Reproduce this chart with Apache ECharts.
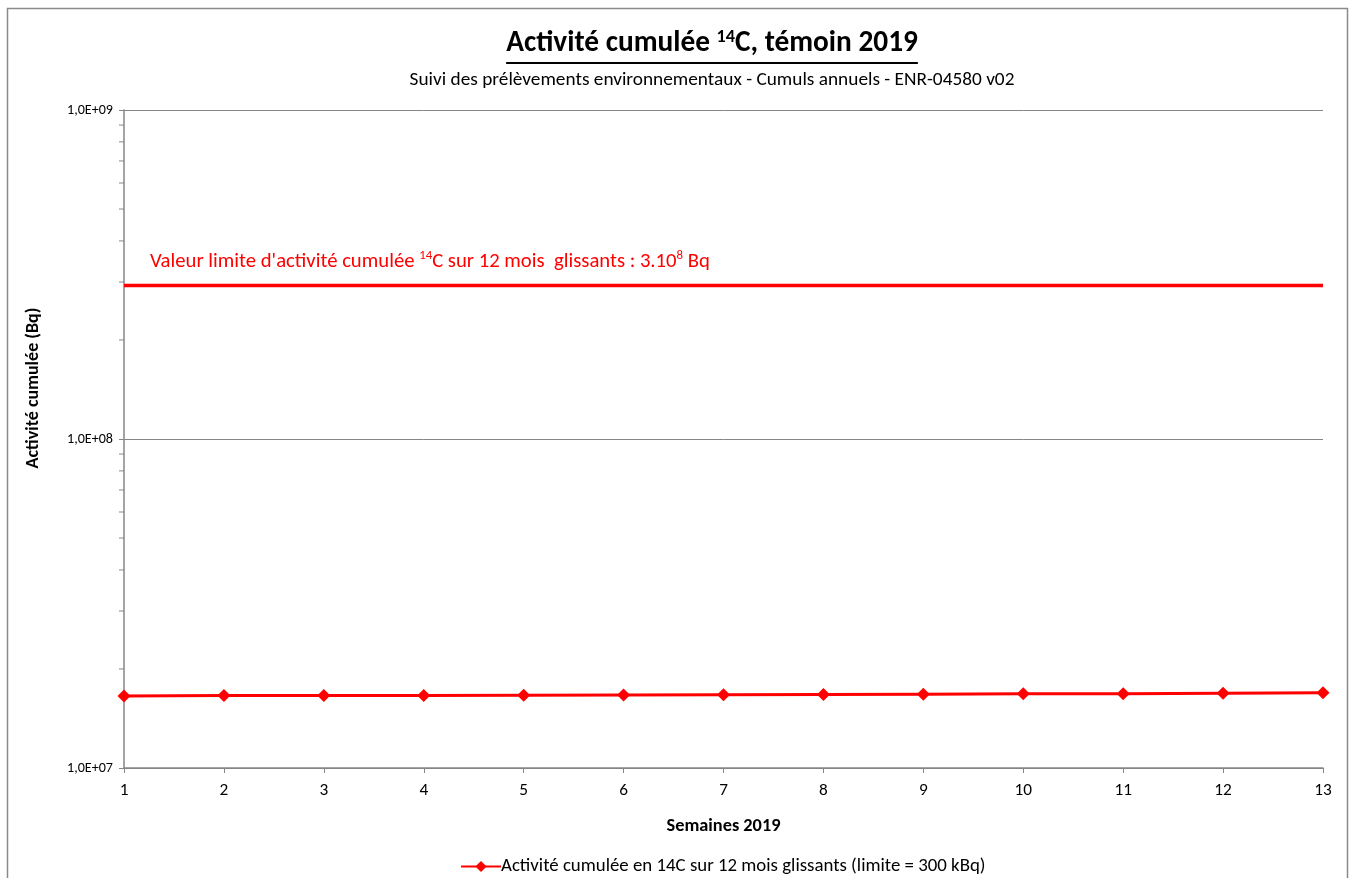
<!DOCTYPE html>
<html>
<head>
<meta charset="utf-8">
<script src="https://cdn.jsdelivr.net/npm/echarts@6/dist/echarts.min.js"></script>
<style>
html,body{margin:0;padding:0;background:#fff;}
#chart{width:1354px;height:878px;}
</style>
</head>
<body>
<div id="chart"></div>
<script>
const weeks = ['1','2','3','4','5','6','7','8','9','10','11','12','13'];
const cumulActivity = [1.655e7,1.66e7,1.66e7,1.662e7,1.665e7,1.668e7,1.67e7,1.673e7,1.676e7,1.68e7,1.682e7,1.688e7,1.694e7];
const limitValues = [2.93e8,2.93e8,2.93e8,2.93e8,2.93e8,2.93e8,2.93e8,2.93e8,2.93e8,2.93e8,2.93e8,2.93e8,2.93e8];
const minorTickValues = [2e7,3e7,4e7,5e7,6e7,7e7,8e7,9e7,2e8,3e8,4e8,5e8,6e8,7e8,8e8,9e8];
const seriesName = 'Activité cumulée en 14C sur 12 mois glissants (limite = 300 kBq)';
const titleA = 'Activité cumulée ', titleSup = '14', titleB = 'C, témoin 2019';
const subtitle = 'Suivi des prélèvements environnementaux - Cumuls annuels - ENR-04580 v02';
const noteA = "Valeur limite d'activité cumulée ", noteSup1 = '14', noteB = 'C sur 12 mois  glissants : 3.10', noteSup2 = '8', noteC = ' Bq';
const xName = 'Semaines 2019';
const yName = 'Activité cumulée (Bq)';
const FONT = 'Carlito, Lato, "Open Sans", sans-serif';

// font sizes fitted to the text widths seen in the reference
const ctx = document.createElement('canvas').getContext('2d');
function w(txt, size, weight){ ctx.font = (weight||'normal') + ' ' + size + 'px ' + FONT; return ctx.measureText(txt).width; }
function fit(parts, target, weight){
  let tot = 0; parts.forEach(function(p){ tot += w(p[0], 20 * p[1], weight); });
  return 20 * target / tot;
}
const titleSize = fit([[titleA,1],[titleSup,0.62],[titleB,1]], 412, 'bold');
const titleW = w(titleA, titleSize, 'bold') + w(titleSup, titleSize*0.62, 'bold') + w(titleB, titleSize, 'bold');
const subSize = fit([[subtitle,1]], 605);
const noteSize = fit([[noteA,1],[noteSup1,0.62],[noteB,1],[noteSup2,0.62],[noteC,1]], 560);
const legendSize = fit([[seriesName,1]], 485);
const xNameSize = fit([[xName,1]], 114, 'bold');
const yNameSize = fit([[yName,1]], 161, 'bold');
const yTickSize = fit([['1,0E+09',1]], 46);
const xTickSize = fit([['13',1]], 17.5);
const titleCx = 712;

const chart = echarts.init(document.getElementById('chart'));

const option = {
  backgroundColor: '#ffffff',
  textStyle: { fontFamily: FONT },
  grid: { left: 124, right: 31, top: 110, bottom: 110 },
  legend: {
    data: [seriesName],
    left: 455, top: 852,
    itemWidth: 40, itemHeight: 14, itemGap: 0,
    textStyle: { fontSize: legendSize, color: '#000', fontFamily: FONT, padding: [0,0,0,-5] }
  },
  xAxis: {
    type: 'category',
    data: weeks,
    boundaryGap: false,
    axisLine: { lineStyle: { color: '#868686', width: 1.5 } },
    axisTick: { show: true, length: 5, lineStyle: { color: '#868686' } },
    axisLabel: { fontSize: xTickSize, color: '#000', margin: 14, fontFamily: FONT },
    splitLine: { show: false },
    name: xName,
    nameLocation: 'middle',
    nameGap: 827 - 768 - xNameSize / 2,
    nameTextStyle: { fontSize: xNameSize, fontWeight: 'bold', color: '#000', fontFamily: FONT }
  },
  yAxis: {
    type: 'log',
    logBase: 10,
    min: 1e7, max: 1e9,
    axisLine: { show: true, lineStyle: { color: '#868686', width: 1.5 } },
    axisTick: { show: true, length: 5, lineStyle: { color: '#868686' } },
    axisLabel: {
      fontSize: yTickSize, color: '#000', margin: 11, fontFamily: FONT,
      formatter: function (v) { const e = Math.round(Math.log10(v)); return '1,0E+' + (e < 10 ? '0' + e : e); }
    },
    splitLine: { show: true, lineStyle: { color: '#868686', width: 1 } }
  },
  series: [
    {
      name: seriesName,
      type: 'line',
      data: cumulActivity,
      color: '#ff0000',
      lineStyle: { width: 3, color: '#ff0000' },
      symbol: 'diamond',
      symbolSize: 13,
      itemStyle: { color: '#ff0000' },
      z: 5
    },
    {
      name: 'limite',
      type: 'line',
      data: limitValues,
      showSymbol: false,
      symbol: 'none',
      lineStyle: { width: 3.5, color: '#ff0000' },
      silent: true,
      markPoint: {
        symbol: 'circle', symbolSize: 0,
        data: [{ coord: [0, limitValues[0]] }],
        label: {
          show: true, position: 'right', offset: [21, -24],
          formatter: '{a|' + noteA + '}{s|' + noteSup1 + '}{a|' + noteB + '}{s|' + noteSup2 + '}{a|' + noteC + '}',
          rich: {
            a: { fontSize: noteSize, color: '#ff0000', fontFamily: FONT, lineHeight: noteSize * 1.2 },
            s: { fontSize: noteSize * 0.62, color: '#ff0000', fontFamily: FONT, verticalAlign: 'top', lineHeight: noteSize * 0.7 }
          }
        }
      }
    },
    {
      name: 'minorTicks',
      type: 'custom',
      silent: true,
      clip: false,
      data: minorTickValues.map(function (v) { return [0, v]; }),
      encode: { x: 0, y: 1 },
      renderItem: function (params, api) {
        const p = api.coord([0, api.value(1)]);
        return { type: 'line', shape: { x1: p[0] - 5, y1: p[1], x2: p[0], y2: p[1] }, style: { stroke: '#868686', lineWidth: 1 } };
      }
    }
  ],
  graphic: [
    { type: 'rect', shape: { x: 7.5, y: 8.5, width: 1340, height: 1000 }, style: { fill: 'none', stroke: '#8a8a8a', lineWidth: 1.5 }, silent: true },
    {
      type: 'text', x: titleCx, y: 59,
      style: {
        text: '{t|' + titleA + '}{s|' + titleSup + '}{t|' + titleB + '}',
        align: 'center', verticalAlign: 'bottom',
        rich: {
          t: { fontSize: titleSize, fontWeight: 'bold', fill: '#000', fontFamily: FONT, lineHeight: titleSize * 1.05 },
          s: { fontSize: titleSize * 0.62, fontWeight: 'bold', fill: '#000', fontFamily: FONT, verticalAlign: 'top', lineHeight: titleSize * 0.7 }
        }
      }
    },
    { type: 'line', shape: { x1: titleCx - titleW / 2, y1: 63, x2: titleCx + titleW / 2, y2: 63 }, style: { stroke: '#000', lineWidth: 2 } },
    {
      type: 'text', x: titleCx, y: 80,
      style: { text: subtitle, align: 'center', verticalAlign: 'middle', fontSize: subSize, fill: '#000', fontFamily: FONT }
    },
    {
      type: 'text', x: 33, y: 388, rotation: Math.PI / 2,
      style: { text: yName, align: 'center', verticalAlign: 'middle', fontSize: yNameSize, fontWeight: 'bold', fill: '#000', fontFamily: FONT }
    }
  ]
};
chart.setOption(option);
</script>
</body>
</html>
